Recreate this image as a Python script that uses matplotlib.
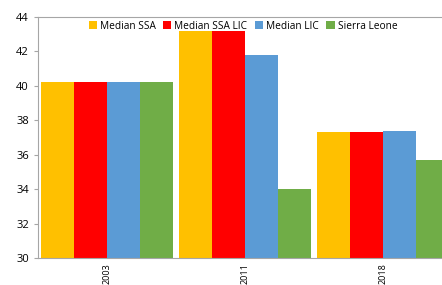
import numpy as np
import matplotlib.pyplot as plt

years = ["2003", "2011", "2018"]
series = ["Median SSA", "Median SSA LIC", "Median LIC", "Sierra Leone"]
median_ssa = [40.2, 43.2, 37.3]
median_ssa_lic = [40.2, 43.2, 37.3]
median_lic = [40.2, 41.8, 37.4]
sierra_leone = [40.2, 34.0, 35.7]
colors = ["#FFC000", "#FF0000", "#5B9BD5", "#70AD47"]

plt.rcParams['font.family'] = ['Open Sans', 'DejaVu Sans']

fig = plt.figure(figsize=(4.42, 2.85), dpi=100)
ax = fig.add_axes([38 / 442, 27 / 285, 414 / 442, 241 / 285])

x = np.arange(len(years))
w = 0.24
values = [median_ssa, median_ssa_lic, median_lic, sierra_leone]
for i, (name, vals) in enumerate(zip(series, values)):
    ax.bar(x + (i - 1.5) * w, vals, w, color=colors[i], label=name)

ax.set_xlim(-0.5, 2.5)
ax.set_ylim(30, 44)
ax.set_yticks(range(30, 45, 2))
ax.set_xticks(x)
ax.set_xticklabels(years, rotation=90, fontsize=6.5)
ax.tick_params(axis='y', labelsize=8, length=3, color='#A6A6A6')
ax.tick_params(axis='x', length=0, pad=4)

for side in ['left', 'bottom', 'top']:
    ax.spines[side].set_color('#A6A6A6')
ax.spines['right'].set_visible(False)

ax.legend(loc='upper center', bbox_to_anchor=(0.495, 1.01), ncol=4, frameon=False,
          fontsize=7.3, handlelength=0.8, handleheight=0.8, handletextpad=0.3,
          columnspacing=0.75, borderaxespad=0.2)

fig.savefig("out.png", dpi=100)
